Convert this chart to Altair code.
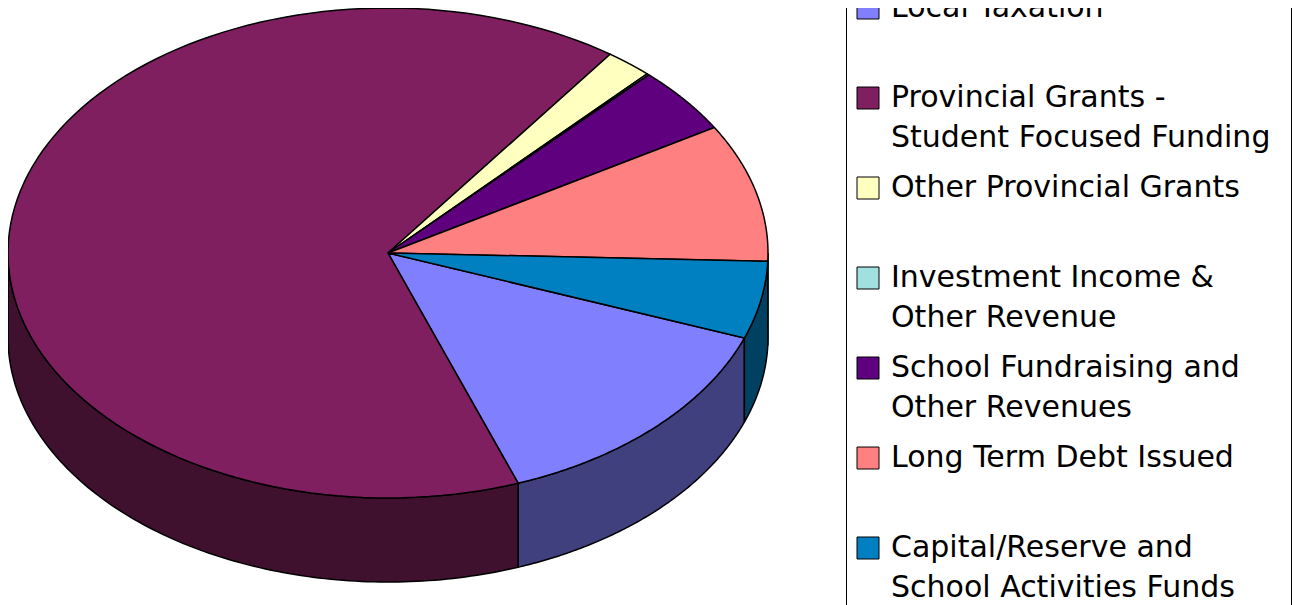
import altair as alt
import pandas as pd

# ---- data (share of total revenue, %) ----
categories = [
    "Local Taxation",
    "Provincial Grants - Student Focused Funding",
    "Other Provincial Grants",
    "Investment Income & Other Revenue",
    "School Fundraising and Other Revenues",
    "Long Term Debt Issued",
    "Capital/Reserve and School Activities Funds",
]
legend_labels = [
    "Local Taxation",
    "Provincial Grants -\nStudent Focused Funding",
    "Other Provincial Grants",
    "Investment Income &\nOther Revenue",
    "School Fundraising and\nOther Revenues",
    "Long Term Debt Issued",
    "Capital/Reserve and\nSchool Activities Funds",
]
shares = [13.8, 65.5, 2.0, 0.1, 4.4, 9.1, 5.1]

# ---- styles ----
top_colors = ["#8080FF", "#7F1F5F", "#FFFFC0", "#A0E0E0", "#5F007F", "#FF8080", "#0080C0"]
side_colors = ["#40407F", "#40102F", "#808060", "#507070", "#30003F", "#804040", "#004060"]

START = 110.3      # rotation of first slice (degrees clockwise from 12 o'clock)
DEPTH = 0.343      # pie thickness in units of vertical radius
N = 120            # points per arc

W, H = 1284, 597

df = pd.DataFrame({
    "cat": categories,
    "label": legend_labels,
    "value": shares,
    "idx": list(range(len(categories))),
})

xs = alt.Scale(domain=[-1, 1], range=[0, 760])
ys = alt.Scale(domain=[-1, 1], range=[0, 490])

base = (
    alt.Chart(df)
    .transform_window(cum="sum(value)", sort=[alt.SortField("idx")], frame=[None, 0])
    .transform_joinaggregate(total="sum(value)")
    .transform_calculate(
        a0=f"{START} + 360*(datum.cum - datum.value)/datum.total",
        a1=f"{START} + 360*datum.cum/datum.total",
    )
)

# visible side walls (front half of the disc)
sides = (
    base.transform_calculate(w="[0, 1]")
    .transform_flatten(["w"])
    .transform_calculate(
        s0="max(datum.a0, 90 + 360*datum.w)",
        s1="min(datum.a1, 270 + 360*datum.w)",
    )
    .transform_filter("datum.s1 > datum.s0")
    .transform_calculate(k=f"sequence(0, {2 * N + 1})")
    .transform_flatten(["k"])
    .transform_calculate(
        t=f"datum.k < {N} ? datum.k/{N - 1} : (datum.k < {2 * N} ? ({2 * N - 1} - datum.k)/{N - 1} : 0)",
    )
    .transform_calculate(
        ang="(datum.s0 + (datum.s1 - datum.s0)*datum.t)*PI/180",
    )
    .transform_calculate(
        px="sin(datum.ang)",
        py=f"-cos(datum.ang) + ((datum.k >= {N} && datum.k < {2 * N}) ? {DEPTH} : 0)",
        key="datum.cat + '_' + datum.w",
    )
    .mark_line(stroke="black", strokeWidth=1.5, strokeJoin="round")
    .encode(
        x=alt.X("px:Q", scale=xs, axis=None),
        y=alt.Y("py:Q", scale=ys, axis=None),
        order="k:Q",
        detail="key:N",
        fill=alt.Fill("cat:N", scale=alt.Scale(domain=categories, range=side_colors), legend=None),
    )
)

# top face
top = (
    base.transform_calculate(k=f"sequence(0, {N + 2})")
    .transform_flatten(["k"])
    .transform_calculate(
        ang=f"(datum.a0 + (datum.a1 - datum.a0)*(datum.k - 1)/{N - 1})*PI/180",
    )
    .transform_calculate(
        px=f"(datum.k == 0 || datum.k == {N + 1}) ? 0 : sin(datum.ang)",
        py=f"(datum.k == 0 || datum.k == {N + 1}) ? 0 : -cos(datum.ang)",
    )
    .mark_line(stroke="black", strokeWidth=1.5, strokeJoin="round")
    .encode(
        x=alt.X("px:Q", scale=xs, axis=None),
        y=alt.Y("py:Q", scale=ys, axis=None),
        order="k:Q",
        detail="cat:N",
        fill=alt.Fill("cat:N", scale=alt.Scale(domain=categories, range=top_colors), legend=None),
    )
)

# legend box
frame_df = pd.DataFrame({"f": [0]})
frame = alt.Chart(frame_df).mark_rect(fill="white", stroke="black", strokeWidth=1).encode(
    x=alt.value(838.5), x2=alt.value(1283.5), y=alt.value(-10), y2=alt.value(H + 10)
)

ly = alt.Scale(domain=[0, 1], range=[0, 90])
swatches = alt.Chart(df).mark_square(size=484, stroke="black", strokeWidth=1, opacity=1).encode(
    x=alt.value(860),
    y=alt.Y("idx:Q", scale=ly, axis=None),
    fill=alt.Fill("cat:N", scale=alt.Scale(domain=categories, range=top_colors), legend=None),
)
labels = alt.Chart(df).mark_text(
    align="left", baseline="alphabetic", dy=9, font="DejaVu Sans", fontSize=30,
    lineBreak="\n", lineHeight=40, color="black",
).encode(
    x=alt.value(883),
    y=alt.Y("idx:Q", scale=ly, axis=None),
    text="label:N",
)

chart = (
    alt.layer(sides, top, frame, swatches, labels)
    .resolve_scale(x="independent", y="independent", fill="independent")
    .properties(width=W, height=H, padding=0, autosize=alt.AutoSizeParams(type="none"))
    .configure_view(stroke=None)
)

chart.save("out.html", embed_options={"renderer": "svg", "actions": False})
